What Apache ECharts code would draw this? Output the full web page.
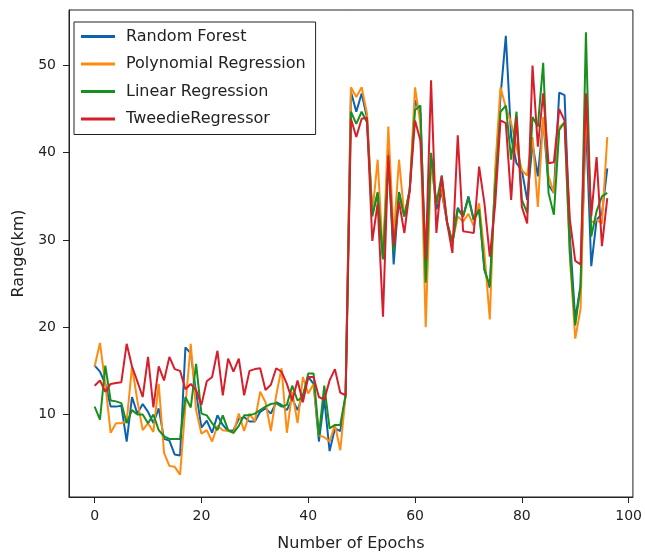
<!DOCTYPE html>
<html>
<head>
<meta charset="utf-8">
<script src="https://cdn.jsdelivr.net/npm/echarts@6/dist/echarts.min.js"></script>
<style>
html,body{margin:0;padding:0;background:#fff;}
#chart{width:645px;height:557px;}
</style>
</head>
<body>
<div id="chart"></div>
<script>
const seriesNames = ['Random Forest', 'Polynomial Regression', 'Linear Regression', 'TweedieRegressor'];
const xTicks = [0, 20, 40, 60, 80, 100];
const yTicks = [10, 20, 30, 40, 50];

const randomForest = [
15.6,14.9,13.5,10.9,10.9,11.0,6.9,12.0,10.1,11.2,
10.3,9.0,10.7,7.2,7.0,5.4,5.3,17.7,17.0,12.5,
8.5,9.3,7.9,9.9,8.8,8.1,8.2,9.5,9.7,9.2,
9.2,10.3,10.7,10.1,11.4,11.1,10.5,11.8,10.5,12.2,
14.3,13.5,6.9,11.8,5.8,8.4,8.1,12.2,47.0,44.7,
46.8,44.0,33.0,35.3,27.8,40.5,27.2,35.5,32.7,35.7,
46.0,44.5,26.6,39.5,33.5,35.5,32.0,29.7,33.7,32.7,
35.0,32.3,33.5,26.6,24.5,37.0,46.4,53.4,41.8,38.8,
38.0,34.6,41.0,37.3,43.8,36.3,35.4,46.9,46.6,30.4,
20.9,24.8,43.8,27.0,32.3,33.0,38.2];

const polynomialRegression = [
15.5,18.2,13.5,7.9,9.0,9.0,9.2,15.5,11.6,8.2,
9.0,8.0,13.5,5.6,4.1,4.0,3.1,11.0,18.1,10.5,
7.8,8.2,6.9,8.7,8.2,8.1,7.9,10.1,8.1,10.1,
9.2,12.6,11.4,8.1,12.2,15.3,7.9,12.6,9.0,14.3,
12.4,13.5,7.6,7.4,6.9,8.8,5.9,12.2,47.5,46.4,
47.5,44.5,33.0,39.2,28.0,43.0,30.4,39.2,32.7,35.7,
47.5,43.3,20.0,39.0,34.2,35.8,32.0,29.7,32.7,32.1,
33.0,31.6,34.2,28.5,20.9,38.0,47.5,45.2,43.4,40.7,
38.0,37.4,41.8,33.8,44.1,37.3,35.4,42.9,43.5,28.0,
18.7,22.1,45.6,32.0,32.3,31.9,41.8];

const linearRegression = [
10.9,9.4,15.6,11.6,11.5,11.3,9.0,10.5,10.0,10.0,
9.0,10.0,8.2,7.5,7.2,7.2,7.2,12.0,10.8,15.8,
10.1,9.9,9.0,8.2,9.9,8.2,7.9,8.7,9.9,9.9,
10.1,10.5,10.9,11.2,11.3,10.9,11.1,13.3,11.6,12.0,
14.7,14.7,7.6,13.3,8.4,8.8,8.8,12.2,44.7,43.3,
44.7,43.5,32.7,35.5,27.8,39.0,28.7,35.4,32.7,35.7,
44.9,45.4,25.1,40.0,34.2,37.4,32.0,29.7,33.5,32.7,
34.8,32.3,33.5,26.6,24.7,36.0,44.7,45.4,39.2,44.7,
34.6,33.1,44.1,43.0,50.3,35.4,32.9,42.6,43.5,28.5,
20.2,24.7,53.8,30.4,33.3,35.0,35.4];

const tweedieRegressor = [
13.3,13.9,12.6,13.5,13.6,13.7,18.1,15.5,13.8,12.0,
16.6,10.8,15.5,13.9,16.6,15.2,15.0,12.9,13.5,12.8,
11.1,13.8,14.3,17.3,12.2,16.4,14.9,16.4,12.2,15.0,
15.2,15.3,12.8,13.4,15.3,14.9,13.5,11.6,13.9,11.4,
14.3,14.3,12.0,11.7,13.9,15.2,12.5,12.2,43.9,41.8,
43.9,44.0,29.9,34.2,21.2,39.7,29.3,34.4,30.8,35.7,
43.7,41.4,27.8,48.3,30.8,37.3,32.0,28.5,42.0,31.0,
30.9,30.8,38.4,34.2,28.1,34.0,43.7,43.4,34.6,44.1,
33.8,31.9,50.0,40.7,46.8,38.8,38.9,45.0,43.7,32.3,
27.6,27.2,46.8,32.7,39.5,29.3,34.8];

const colors = ['#0d62b0', '#ff8c10', '#17901d', '#d71f2b'];
const allValues = [randomForest, polynomialRegression, linearRegression, tweedieRegressor];

const font = 'DejaVu Sans';
const chart = echarts.init(document.getElementById('chart'), null, {renderer: 'canvas'});

const series = allValues.map((vals, k) => ({
  name: seriesNames[k],
  type: 'line',
  data: vals.map((v, i) => [i, v]),
  showSymbol: false,
  symbol: 'none',
  smooth: false,
  lineStyle: {width: 2, color: colors[k]},
  itemStyle: {color: colors[k]},
  animation: false
}));

chart.setOption({
  animation: false,
  backgroundColor: '#fff',
  grid: {left: 69, right: 11, top: 10, bottom: 58, show: true, borderColor: '#222', borderWidth: 1, backgroundColor: 'transparent'},
  legend: {
    orient: 'vertical',
    left: 74, top: 22,
    padding: [6, 10, 7, 7],
    itemWidth: 34, itemHeight: 3,
    itemGap: 10.5,
    icon: 'rect',
    borderColor: '#222', borderWidth: 1, borderRadius: 0,
    backgroundColor: '#fff',
    textStyle: {fontFamily: font, fontSize: 16, color: '#222', lineHeight: 17, padding: [0, 0, 0, 6]},
    data: seriesNames
  },
  xAxis: {
    type: 'value', min: -4.8, max: 100.8,
    name: 'Number of Epochs', nameLocation: 'middle', nameGap: 39,
    nameTextStyle: {fontFamily: font, fontSize: 16, color: '#222'},
    axisLine: {show: true, onZero: false, lineStyle: {color: '#222', width: 1}},
    axisTick: {show: true, length: 6, inside: false, customValues: xTicks, lineStyle: {color: '#222'}},
    axisLabel: {fontFamily: font, fontSize: 14, color: '#222', margin: 12, customValues: xTicks, showMinLabel: true, showMaxLabel: true},
    splitLine: {show: false}
  },
  yAxis: {
    type: 'value', min: 0.54, max: 56.36,
    name: 'Range(km)', nameLocation: 'middle', nameGap: 35, nameRotate: 90,
    nameTextStyle: {fontFamily: font, fontSize: 16, color: '#222'},
    axisLine: {show: true, onZero: false, lineStyle: {color: '#222', width: 1}},
    axisTick: {show: true, length: 6, inside: false, customValues: yTicks, lineStyle: {color: '#222'}},
    axisLabel: {fontFamily: font, fontSize: 14, color: '#222', margin: 13, customValues: yTicks},
    splitLine: {show: false}
  },
  series: series
});
</script>
</body>
</html>
